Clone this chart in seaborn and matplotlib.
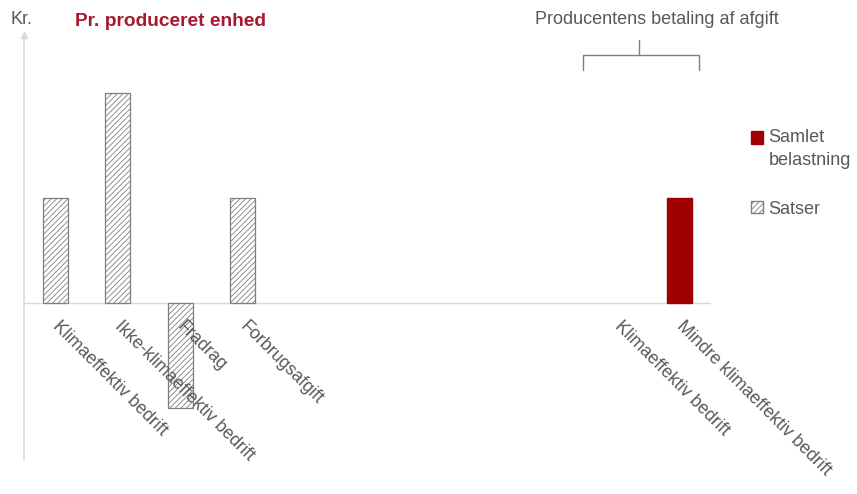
import numpy as np
import pandas as pd
import seaborn as sns
from matplotlib import pyplot as plt
from matplotlib.patches import Patch

# data
kategorier = [
    "Klimaeffektiv bedrift",
    "Ikke-klimaeffektiv bedrift",
    "Fradrag",
    "Forbrugsafgift",
    "", "", "", "", "",
    "Klimaeffektiv bedrift",
    "Mindre klimaeffektiv bedrift",
]
satser_pos = [0, 1, 2, 3]
satser = [1, 2, -1, 1]
samlet_pos = [10]
samlet = [1]

GRAY = "#595959"
RED = "#A00000"
TITLE_RED = "#A6192E"

sns.set_style("white")
plt.rcParams["font.family"] = ["Liberation Sans", "DejaVu Sans"]
plt.rcParams["hatch.linewidth"] = 0.6

fig = plt.figure(figsize=(8.57, 4.94), dpi=100)
ax = fig.add_axes([24 / 857, 1 - 459 / 494, (711 - 24) / 857, (459 - 35) / 494])

order = list(range(len(kategorier)))
df_sats = pd.DataFrame({"pos": satser_pos, "val": satser})
df_saml = pd.DataFrame({"pos": samlet_pos, "val": samlet})

sns.barplot(data=df_sats, x="pos", y="val", order=order, color="white",
            width=0.4, ax=ax, errorbar=None, saturation=1)
for p in ax.patches:
    p.set_hatch("//////")
    p.set_edgecolor("#7f7f7f")
    p.set_linewidth(0.9)
n_sats = len(ax.patches)
sns.barplot(data=df_saml, x="pos", y="val", order=order, color=RED,
            width=0.4, ax=ax, errorbar=None, saturation=1)
for p in ax.patches[n_sats:]:
    p.set_edgecolor(RED)

ax.set_xlim(-0.5, 10.5)
ax.set_ylim(-1.49, 2.55)
ax.axhline(0, color="#d9d9d9", lw=1, zorder=0)

sns.despine(ax=ax, bottom=True, right=True, top=True)
ax.spines["left"].set_color("#d9d9d9")
ax.spines["left"].set_linewidth(1.2)
ax.plot(0, 1, marker="^", color="#d9d9d9", markersize=5,
        transform=ax.transAxes, clip_on=False)

ax.set_xticks([])
ax.set_yticks([])
ax.set_xlabel("")
ax.set_ylabel("")

# category labels, rotated down from the zero line
for i, lab in enumerate(kategorier):
    if lab:
        ax.annotate(lab, (i, 0), xytext=(4, -11), textcoords="offset points",
                    rotation=-45, rotation_mode="anchor", ha="left", va="top",
                    fontsize=12.8, color=GRAY)

# bracket above the right group
ax.plot([8.45, 8.45, 10.3, 10.3], [2.22, 2.36, 2.36, 2.22], color="#7f7f7f",
        lw=1, clip_on=False)
ax.plot([9.35, 9.35], [2.36, 2.5], color="#7f7f7f", lw=1, clip_on=False)

fig.text(657 / 857, 1 - 20 / 494, "Producentens betaling af afgift",
         ha="center", va="center", fontsize=13, color=GRAY)
fig.text(10 / 857, 1 - 20 / 494, "Kr.", ha="left", va="center",
         fontsize=13, color=GRAY)
fig.text(75 / 857, 1 - 21 / 494, "Pr. produceret enhed", ha="left",
         va="center", fontsize=13.8, fontweight="bold", color=TITLE_RED)

handles = [
    Patch(facecolor=RED, edgecolor=RED, label="Samlet\nbelastning"),
    Patch(facecolor="white", edgecolor="#7f7f7f", hatch="//////",
          label="Satser"),
]
leg = fig.legend(handles=handles, loc="upper left",
                 bbox_to_anchor=(744 / 857, 1 - 122 / 494), frameon=False,
                 fontsize=13, labelcolor=GRAY, handlelength=0.65,
                 handleheight=0.65, handletextpad=0.3, labelspacing=1.75,
                 borderaxespad=0)
for t in leg.get_texts():
    t.set_linespacing(1.45)
# put the red square beside the first line of its two-line label
red_sq = leg.get_patches()[0]
red_sq.set_y(red_sq.get_y() + 8.5)

fig.savefig("out.png", dpi=100)
